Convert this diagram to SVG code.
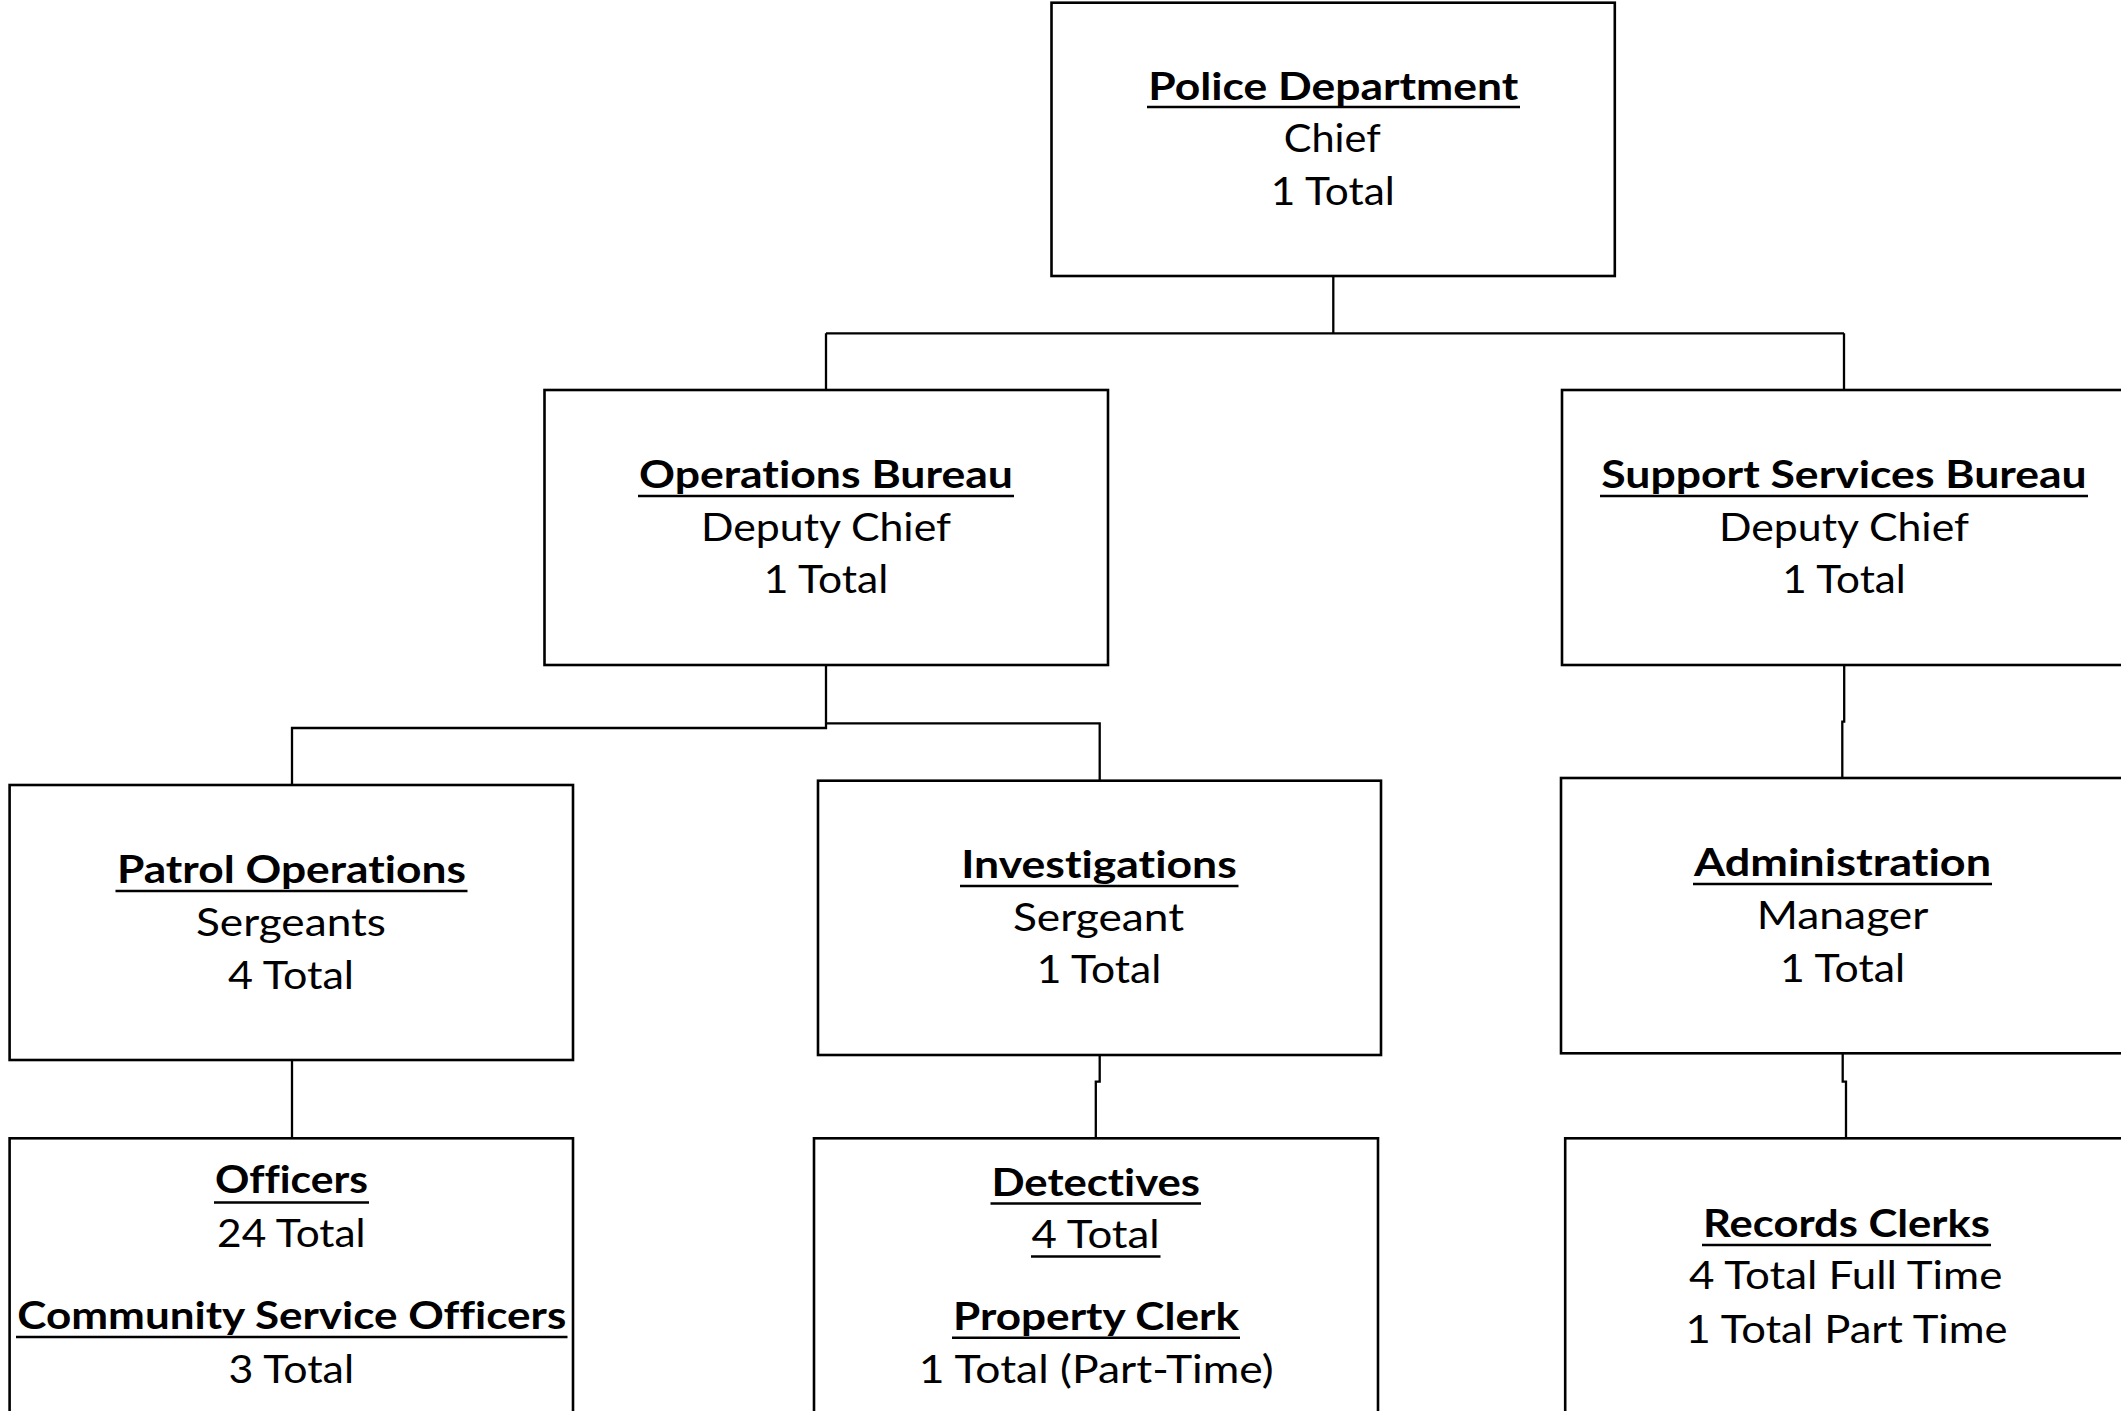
<svg xmlns="http://www.w3.org/2000/svg" width="2121" height="1411" viewBox="0 0 2121 1411">
<style>
.box{fill:#fff;stroke:#000;stroke-width:2.6}
.con{fill:none;stroke:#000;stroke-width:2.3}
.ul{stroke:#000;stroke-width:2.6}
text{font-family:Lato,"Open Sans","Liberation Sans",sans-serif;font-size:38px;fill:#000;text-anchor:middle;font-variant-ligatures:none;font-feature-settings:"liga" 0}
.b{font-weight:bold}
</style>
<rect width="2121" height="1411" fill="#fff"/>
<g id="connectors">
<path class="con" d="M1333.3,276 V333.3 M826,333.3 H1844 M826,333.3 V390 M1844,333.3 V390"/>
<path class="con" d="M826,665 V728 H292 V785 M826,723.3 H1099.7 V781"/>
<path class="con" d="M292,1060 V1138"/>
<path class="con" d="M1099.7,1055 V1081.7 H1095.8 V1138"/>
<path class="con" d="M1844.2,665 V721.7 H1842.3 V778"/>
<path class="con" d="M1842.7,1053 V1081.7 H1846 V1138"/>
</g>
<g id="police">
<rect class="box" x="1051.5" y="2.7" width="563.3" height="273.3"/>
<text class="b" x="1333.3" y="100" textLength="370" lengthAdjust="spacingAndGlyphs">Police Department</text>
<line class="ul" x1="1147" y1="107" x2="1520" y2="107"/>
<text x="1332.2" y="152" textLength="97" lengthAdjust="spacingAndGlyphs">Chief</text>
<text x="1332.8" y="205" textLength="124" lengthAdjust="spacingAndGlyphs">1 Total</text>
</g>
<g id="operations">
<rect class="box" x="544.5" y="390" width="563.5" height="275"/>
<text class="b" x="826" y="488" textLength="374" lengthAdjust="spacingAndGlyphs">Operations Bureau</text>
<line class="ul" x1="638" y1="496" x2="1014" y2="496"/>
<text x="826" y="541" textLength="250" lengthAdjust="spacingAndGlyphs">Deputy Chief</text>
<text x="826" y="593" textLength="124.6" lengthAdjust="spacingAndGlyphs">1 Total</text>
</g>
<g id="support">
<rect class="box" x="1562" y="390" width="563" height="275"/>
<text class="b" x="1844" y="488" textLength="485.5" lengthAdjust="spacingAndGlyphs">Support Services Bureau</text>
<line class="ul" x1="1600" y1="496" x2="2088" y2="496"/>
<text x="1844" y="541" textLength="250" lengthAdjust="spacingAndGlyphs">Deputy Chief</text>
<text x="1844" y="593" textLength="123.5" lengthAdjust="spacingAndGlyphs">1 Total</text>
</g>
<g id="patrol">
<rect class="box" x="9.6" y="785" width="563.4" height="275"/>
<text class="b" x="291.4" y="883" textLength="349" lengthAdjust="spacingAndGlyphs">Patrol Operations</text>
<line class="ul" x1="115.5" y1="891" x2="467.5" y2="891"/>
<text x="291" y="936" textLength="190" lengthAdjust="spacingAndGlyphs">Sergeants</text>
<text x="291" y="988.5" textLength="126" lengthAdjust="spacingAndGlyphs">4 Total</text>
</g>
<g id="investigations">
<rect class="box" x="818" y="780.7" width="563" height="274.3"/>
<text class="b" x="1099" y="878" textLength="275.5" lengthAdjust="spacingAndGlyphs">Investigations</text>
<line class="ul" x1="960" y1="886" x2="1238.5" y2="886"/>
<text x="1098.5" y="931" textLength="171" lengthAdjust="spacingAndGlyphs">Sergeant</text>
<text x="1099" y="983" textLength="124.6" lengthAdjust="spacingAndGlyphs">1 Total</text>
</g>
<g id="administration">
<rect class="box" x="1561" y="778" width="564" height="275.3"/>
<text class="b" x="1842.5" y="876" textLength="297" lengthAdjust="spacingAndGlyphs">Administration</text>
<line class="ul" x1="1693" y1="884" x2="1992" y2="884"/>
<text x="1842.6" y="929" textLength="171.7" lengthAdjust="spacingAndGlyphs">Manager</text>
<text x="1842.6" y="981.7" textLength="125" lengthAdjust="spacingAndGlyphs">1 Total</text>
</g>
<g id="officers">
<rect class="box" x="9.6" y="1138.3" width="563.4" height="290"/>
<text class="b" x="291.5" y="1193" textLength="153" lengthAdjust="spacingAndGlyphs">Officers</text>
<line class="ul" x1="214" y1="1202.5" x2="369" y2="1202.5"/>
<text x="291.3" y="1246.7" textLength="148.5" lengthAdjust="spacingAndGlyphs">24 Total</text>
<text class="b" x="291.8" y="1329" textLength="549" lengthAdjust="spacingAndGlyphs">Community Service Officers</text>
<line class="ul" x1="16" y1="1337" x2="567.5" y2="1337"/>
<text x="291.3" y="1383" textLength="125.5" lengthAdjust="spacingAndGlyphs">3 Total</text>
</g>
<g id="detectives">
<rect class="box" x="814" y="1138.3" width="564" height="290"/>
<text class="b" x="1095.7" y="1196" textLength="208.6" lengthAdjust="spacingAndGlyphs">Detectives</text>
<line class="ul" x1="990.5" y1="1203.5" x2="1201" y2="1203.5"/>
<text x="1095.6" y="1248.3" textLength="128" lengthAdjust="spacingAndGlyphs">4 Total</text>
<line class="ul" x1="1031" y1="1256.5" x2="1160.5" y2="1256.5"/>
<text class="b" x="1096" y="1330" textLength="286" lengthAdjust="spacingAndGlyphs">Property Clerk</text>
<line class="ul" x1="952" y1="1337.7" x2="1240" y2="1337.7"/>
<text x="1096.2" y="1383" textLength="355" lengthAdjust="spacingAndGlyphs">1 Total (Part-Time)</text>
</g>
<g id="records">
<rect class="box" x="1565.2" y="1138.3" width="562" height="290"/>
<text class="b" x="1846.5" y="1236.7" textLength="287" lengthAdjust="spacingAndGlyphs">Records Clerks</text>
<line class="ul" x1="1702" y1="1245" x2="1991" y2="1245"/>
<text x="1845.7" y="1289.3" textLength="313.4" lengthAdjust="spacingAndGlyphs">4 Total Full Time</text>
<text x="1846.6" y="1342.7" textLength="322" lengthAdjust="spacingAndGlyphs">1 Total Part Time</text>
</g>
</svg>
